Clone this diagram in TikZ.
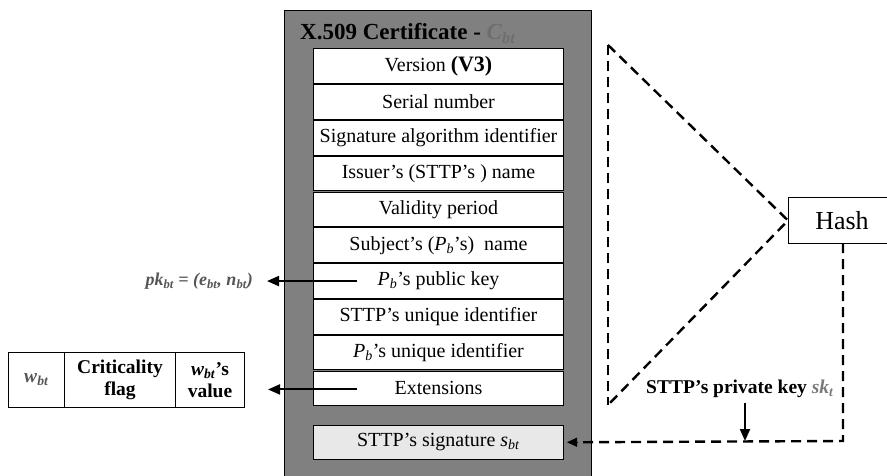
\documentclass[tikz,border=0pt]{standalone}
\usepackage{fontspec}
\setmainfont{Liberation Serif}
\usetikzlibrary{arrows.meta,calc}
\definecolor{outergray}{HTML}{808080}
\definecolor{sigfill}{HTML}{E8E8E8}
\definecolor{cbtgray}{HTML}{6E6E6E}
\definecolor{pkgray}{HTML}{555555}
\definecolor{skgray}{HTML}{7A7A7A}
\newcommand\myPb{\textit{P}\textsubscript{\textit{b}}}
\begin{document}
\begin{tikzpicture}[x=1pt,y=-1pt,
  rowbox/.style={draw, fill=white, line width=1pt, minimum width=250pt, minimum height=34.5pt, inner sep=0pt, anchor=north west, font=\fontsize{20}{22}\selectfont},
  cellbox/.style={draw, line width=1pt, minimum height=55pt, inner sep=0pt, anchor=north west, align=center, font=\fontsize{19.5}{22}\selectfont\bfseries},
  solidarr/.style={line width=2pt, -{Triangle[length=12pt,width=10pt]}},
  dasharr/.style={line width=2.4pt, dash pattern=on 10pt off 6pt},
]
\useasboundingbox (0,0) rectangle (887,476);
% outer certificate box
\node[draw, fill=outergray, line width=1pt, minimum width=307pt, minimum height=480pt, inner sep=0pt, anchor=north west] (cert) at (284,10) {};
\node[anchor=base west, inner sep=0pt, font=\fontsize{23}{25}\selectfont\bfseries] (title) at (300,40) {X.509 Certificate - {\color{cbtgray}\textit{C}\textsubscript{\textit{bt}}}};
% rows
\node[rowbox] (r0) at (313,48.5) {Version \textbf{\fontsize{22}{24}\selectfont(V3)}};
\node[rowbox] (r1) at (313,84.3) {Serial number};
\node[rowbox] (r2) at (313,120.1) {Signature algorithm identifier};
\node[rowbox] (r3) at (313,155.9) {Issuer’s (STTP’s ) name};
\node[rowbox] (r4) at (313,191.7) {Validity period};
\node[rowbox] (r5) at (313,227.5) {Subject’s (\myPb’s)\ \ name};
\node[rowbox] (r6) at (313,263.3) {\myPb’s public key};
\node[rowbox] (r7) at (313,299.1) {STTP’s unique identifier};
\node[rowbox] (r8) at (313,334.9) {\myPb’s unique identifier};
\node[rowbox] (r9) at (313,370.7) {Extensions};
\node[rowbox, fill=sigfill] (sig) at (313,424.5) {STTP’s signature \textit{s}\textsubscript{\textit{bt}}};
% public key text
\node[anchor=east, inner sep=0pt, text=pkgray, font=\fontsize{18}{20}\selectfont\bfseries\itshape] (pk) at (253,281) {pk\textsubscript{bt} = (e\textsubscript{bt}, n\textsubscript{bt})};
% extension table
\node[cellbox, minimum width=56pt] (c1) at (8,352) {\color{pkgray}\textit{w}\textsubscript{\textit{bt}}};
\node[cellbox, minimum width=111pt] (c2) at (64,352) {Criticality\\flag};
\node[cellbox, minimum width=69pt] (c3) at (175,352) {\textit{w}\textsubscript{\textit{bt}}’s\\value};
% left arrows
\draw[solidarr] ([xshift=44pt]r6.west) -- ([xshift=14pt]r6.west -| pk.east);
\draw[solidarr] ([xshift=44pt,yshift=-1pt]r9.west) -- ([xshift=23pt,yshift=-1pt]r9.west -| c3.east);
% hash
\node[draw, line width=1pt, minimum width=112pt, minimum height=46pt, inner sep=0pt, anchor=north west] (hash) at (788,197) {};
\node[font=\fontsize{26}{28}\selectfont, inner sep=0pt] (hashtxt) at (842,221) {Hash};
\coordinate (apex) at (608,45);
\coordinate (low) at (608,405);
\draw[dasharr] (apex) -- (hash.west) -- (low);
\draw[dasharr, line width=2pt] (apex) -- (low);
\coordinate (turn) at (843,441);
\draw[dasharr] (843,243) -- (turn) -- ([xshift=14pt]sig.east);
\draw[line width=1pt, -{Triangle[length=10pt,width=9pt]}] ([xshift=14pt]sig.east) -- ([xshift=3pt]sig.east);
% private key
\node[inner sep=0pt, font=\fontsize{19.5}{21}\selectfont\bfseries] (sk) at (740,389) {STTP’s private key {\color{skgray}\textit{sk}\textsubscript{\textit{t}}}};
\coordinate (skend) at (745,441);
\draw[solidarr] (745,403) -- (skend);
\end{tikzpicture}
\end{document}
